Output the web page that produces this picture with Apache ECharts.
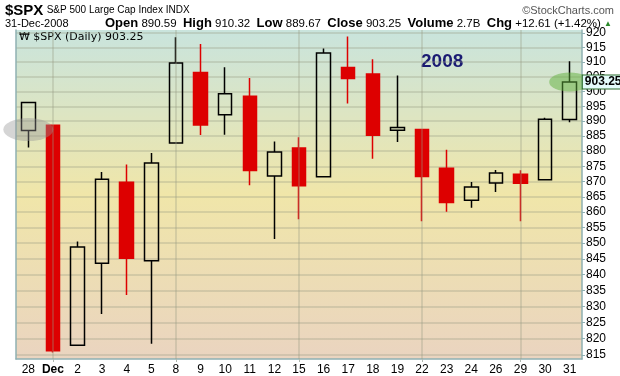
<!DOCTYPE html>
<html style="height: 100%">
<head>
    <meta charset="utf-8">
    <title>$SPX Daily Dec 2008</title>
    <script type="text/javascript" src="https://cdn.jsdelivr.net/npm/echarts@6/dist/echarts.min.js"></script>
</head>
<body style="height: 100%; margin: 0; background: #fff">
    <div id="container" style="width: 620px; height: 376px"></div>
    <script type="text/javascript">
        // 日期 / OHLC
        var days = ['28', 'Dec', '2', '3', '4', '5', '8', '9', '10', '11', '12', '15', '16', '17', '18', '19', '22', '23', '24', '26', '29', '30', '31'];
        var openVals = [886.89, 888.61, 817.94, 843.60, 869.75, 844.43, 882.71, 906.48, 892.17, 898.35, 871.79, 881.07, 871.53, 908.16, 905.98, 886.96, 887.20, 874.31, 863.87, 869.51, 872.37, 870.58, 890.59];
        var closeVals = [896.24, 816.21, 848.81, 870.74, 845.22, 876.07, 909.70, 888.67, 899.24, 873.59, 879.73, 868.57, 913.18, 904.42, 885.28, 887.88, 871.63, 863.16, 868.15, 872.80, 869.42, 890.64, 903.25];
        var lowVals = [881.21, 815.69, 817.94, 827.60, 833.60, 818.41, 882.71, 885.38, 885.45, 868.73, 851.35, 857.72, 871.53, 895.94, 877.44, 883.02, 857.09, 860.10, 861.44, 866.52, 857.07, 870.58, 889.67];
        var highVals = [896.25, 888.61, 850.54, 873.12, 875.60, 879.42, 918.57, 916.26, 908.27, 904.63, 883.24, 884.63, 914.66, 918.85, 911.02, 905.47, 887.37, 880.44, 869.79, 873.74, 873.70, 891.12, 910.32];
        var yTicks = [815, 820, 825, 830, 835, 840, 845, 850, 855, 860, 865, 870, 875, 880, 885, 890, 895, 900, 905, 910, 915, 920];
        var mondays = [1, 6, 11, 16, 20];
        var lastClose = 903.25;

        var candles = [];
        for (var i = 0; i < days.length; i++) {
            candles.push([openVals[i], closeVals[i], lowVals[i], highVals[i]]);
        }

        var myChart = echarts.init(document.getElementById('container'));
        var gridLine = 'rgba(150,155,130,0.4)';

        var option = {
            animation: false,
            grid: {
                left: 16, right: 38, top: 30, bottom: 17,
                show: true,
                borderWidth: 0,
                backgroundColor: {
                    type: 'linear', x: 0, y: 0, x2: 0, y2: 1,
                    colorStops: [
                        { offset: 0, color: '#c9e4dd' },
                        { offset: 0.5, color: '#f0e6a9' },
                        { offset: 1, color: '#ead4c0' }
                    ]
                }
            },
            xAxis: {
                type: 'category',
                data: days,
                boundaryGap: true,
                axisLine: { lineStyle: { color: '#8fb0b2', width: 1.5 } },
                axisTick: {
                    show: true, length: 3, alignWithLabel: true,
                    interval: function (idx) { return mondays.indexOf(idx) >= 0; },
                    lineStyle: { color: '#b0b8b0' }
                },
                axisLabel: {
                    interval: 0, margin: 5,
                    color: '#000', fontFamily: 'Liberation Sans', fontSize: 12,
                    formatter: function (v) { return v === 'Dec' ? '{b|Dec}' : v; },
                    rich: { b: { fontWeight: 'bold', fontSize: 12, fontFamily: 'Liberation Sans', color: '#000' } }
                },
                splitLine: { show: false }
            },
            yAxis: [{
                type: 'log',
                position: 'right',
                min: 813.7,
                max: 921.1,
                axisLine: { show: true, lineStyle: { color: '#8fb0b2', width: 1.5 } },
                axisTick: { show: true, length: 3, inside: false, customValues: yTicks, lineStyle: { color: '#8fb0b2' } },
                axisLabel: {
                    customValues: yTicks, margin: 4,
                    color: '#000', fontFamily: 'Liberation Sans', fontSize: 12
                },
                splitLine: { show: true, lineStyle: { color: gridLine, width: 1.5 } }
            }, {
                type: 'log',
                position: 'left',
                min: 813.7,
                max: 921.1,
                axisLine: { show: true, lineStyle: { color: '#8fb0b2', width: 1.5 } },
                axisTick: { show: false },
                axisLabel: { show: false },
                splitLine: { show: false }
            }],
            series: [{
                type: 'candlestick',
                data: candles,
                barWidth: 14,
                clip: false,
                itemStyle: {
                    color: 'rgba(0,0,0,0)',
                    color0: '#dd0000',
                    borderColor: '#000',
                    borderColor0: '#dd0000',
                    borderWidth: 1.5
                },
                markLine: {
                    silent: true,
                    symbol: 'none',
                    label: { show: false },
                    lineStyle: { color: gridLine, width: 1.5, type: 'solid' },
                    data: mondays.map(function (i) { return { xAxis: days[i] }; })
                },
                markPoint: {
                    silent: true,
                    label: { show: false },
                    data: [
                        { coord: ['28', 887.2], symbol: 'circle', symbolSize: [50, 23], itemStyle: { color: 'rgba(150,150,150,0.4)' } },
                        { coord: ['31', lastClose], symbol: 'circle', symbolSize: [41, 19], itemStyle: { color: 'rgba(95,175,60,0.5)' } },
                        {
                            coord: ['31', lastClose], symbol: 'triangle', symbolSize: [7, 4], symbolRotate: 90,
                            symbolOffset: [16, 0],
                            itemStyle: { color: '#e4fbfb', borderColor: '#2a6a2a', borderWidth: 1 },
                            label: {
                                show: true, position: 'inside', offset: [17, 0],
                                formatter: lastClose.toFixed(2),
                                color: '#000', fontWeight: 'bold', fontSize: 12, fontFamily: 'Liberation Sans',
                                backgroundColor: '#e4fbfb', borderColor: '#2a6a2a', borderWidth: 1,
                                padding: [1, 1, 0, 2]
                            }
                        }
                    ]
                }
            }],
            graphic: [
                {
                    type: 'text', left: 5, top: 3,
                    style: {
                        text: '{t|$SPX} {s|S&P 500 Large Cap Index INDX}',
                        rich: {
                            t: { fontSize: 15, fontWeight: 'bold', fontFamily: 'Liberation Sans', fill: '#000' },
                            s: { fontSize: 10, fontFamily: 'Liberation Sans', fill: '#000' }
                        }
                    }
                },
                {
                    type: 'text', right: 6, top: 5,
                    style: { text: '\u00a9StockCharts.com', fontSize: 11, fontFamily: 'Liberation Sans', fill: '#555' }
                },
                {
                    type: 'text', left: 5, top: 18,
                    style: { text: '31-Dec-2008', fontSize: 11, fontFamily: 'Liberation Sans', fill: '#000' }
                },
                {
                    type: 'text', right: 8, top: 17,
                    style: {
                        text: '{b|Open} 890.59  {b|High} 910.32  {b|Low} 889.67  {b|Close} 903.25  {b|Volume} 2.7B  {b|Chg} +12.61 (+1.42%) {g|\u25b2}',
                        fontSize: 11.5, fontFamily: 'Liberation Sans', fill: '#000',
                        rich: {
                            b: { fontSize: 13, fontWeight: 'bold', fontFamily: 'Liberation Sans', fill: '#000' },
                            g: { fontSize: 8, fill: '#2a8a2a' }
                        }
                    }
                },
                {
                    type: 'text', left: 19, top: 32,
                    style: { text: '\u20a9 $SPX (Daily) 903.25', fontSize: 11, fontFamily: 'DejaVu Sans', fill: '#000' }
                },
                {
                    type: 'text', left: 421, top: 52,
                    style: { text: '2008', fontSize: 19, fontWeight: 'bold', fontFamily: 'Liberation Sans', fill: '#1a1a72' }
                }
            ]
        };
        myChart.setOption(option);
    </script>
</body>
</html>
